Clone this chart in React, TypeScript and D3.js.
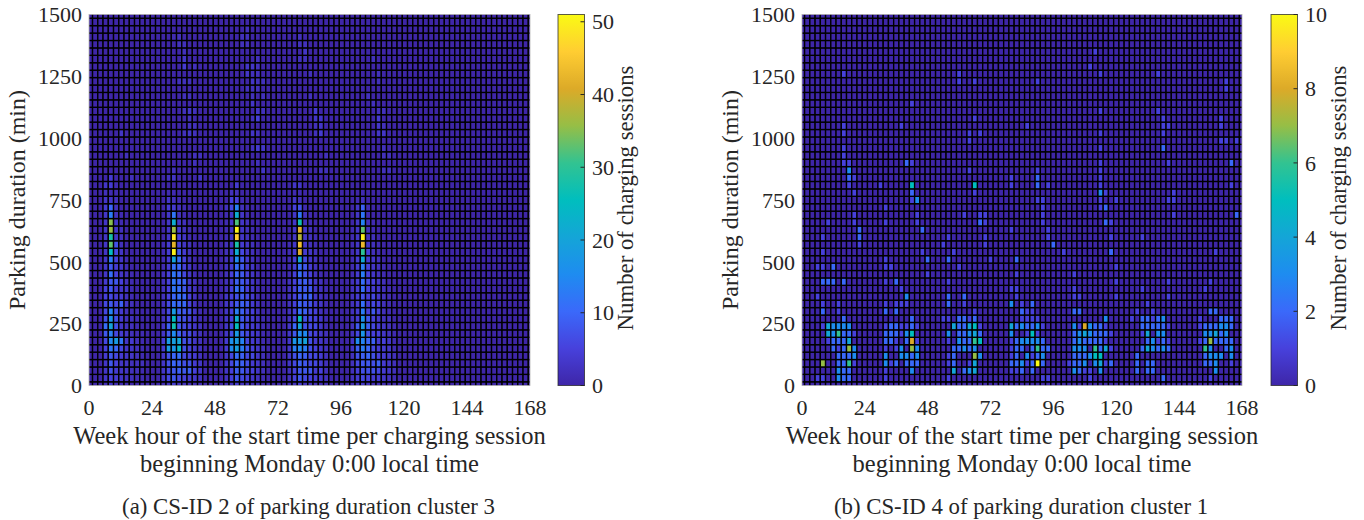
import React from "react";
import * as d3 from "d3";

const xTickValues = [0, 24, 48, 72, 96, 120, 144, 168];
const yTickValues = [0, 250, 500, 750, 1000, 1250, 1500];
const xLabelLines = ["Week hour of the start time per charging session", "beginning Monday 0:00 local time"];
const yLabel = "Parking duration (min)";
const barLabel = "Number of charging sessions";
const captionA = "(a) CS-ID 2 of parking duration cluster 3";
const captionB = "(b) CS-ID 4 of parking duration cluster 1";
const barTicksA = [0, 10, 20, 30, 40, 50];
const barTicksB = [0, 2, 4, 6, 8, 10];
const parulaStops = ["#3E26A8", "#4741DC", "#3A69FA", "#1E8CF0", "#14A5D7", "#00BEBE", "#32C391", "#96BE46", "#DCAA28", "#FFCD32", "#FAFA14"];

// Chart (a): column index (2 h bins), then counts by row (30 min bins) from the bottom
const columnsA: [number, number[]][] = [
  [3, [1,3,3,3,4,5,6,8,11,7,6,6,5,5,4,3,3,3,3,3,3,3,3,3,4,3,2,1]],
  [4, [3,5,7,8,8,12,15,13,20,17,14,8,6,8,8,11,8,13,25,33,28,36,35,13,10,3,1]],
  [5, [1,4,4,5,6,10,18,6,7,7,7,6,4,4,8,5,4,5,6,7,3,3,3,2,2,2,1,1]],
  [6, [1,3,3,3,4,6,12,4,3,4,4,9,4,3,5,3,3,3,3,2,2,2,1,1]],
  [7, [1,2,3,3,3,3,3,3,2,2,2,3,2,3,2,2,1,1]],
  [8, [0,2,2,2,3,3,4,2,2,2,1,2,1,1,1,1]],
  [9, [0,1,2,2,2,2,2,1,1,1,1]],
  [10, [0,1,1,2,1,1,1,1]],
  [14, [1,3,3,3,3,4,4,3,3,2,2,2,2,2,2,2,1,1,1,1]],
  [15, [2,6,6,7,7,18,18,8,9,6,6,6,5,5,5,5,4,4,4,4,3,3,3,3,4,3,1]],
  [16, [4,8,8,10,10,17,19,15,27,25,18,11,10,12,12,12,11,20,50,42,49,36,22,12,4,2,1]],
  [17, [2,6,9,9,11,24,20,9,8,8,9,10,11,11,10,10,10,11,8,5,5,4,3,2,2,1]],
  [18, [2,5,8,7,6,7,7,6,6,7,8,10,10,8,9,6,5,5,4,3,3,2,2,1,1]],
  [19, [1,4,9,7,5,5,6,6,5,5,7,5,5,4,3,3,3,2,2,2,1,1]],
  [20, [1,3,5,4,4,3,3,3,3,3,3,2,2,2,2,1]],
  [21, [1,2,3,3,2,2,2,2,2,1,1]],
  [26, [1,2,3,3,3,4,4,3,3,3,3,3,3,2,2,2,2,2,2,2,1,1,1,1,2]],
  [27, [2,5,5,6,6,15,16,7,7,5,5,5,5,5,4,5,4,4,4,3,3,3,3,3,6,5,2]],
  [28, [4,8,9,10,11,19,18,18,26,22,13,8,7,11,9,10,11,15,22,28,46,50,32,22,14,5,2]],
  [29, [2,6,8,9,9,13,14,8,8,8,9,9,8,9,8,8,8,8,6,4,3,3,3,3,2,1]],
  [30, [2,5,6,7,6,8,6,6,5,6,6,8,6,5,6,5,4,4,3,3,2,2,2,1,1]],
  [31, [1,3,5,4,6,5,4,4,4,4,5,4,4,3,3,3,3,2,2,2,1,1]],
  [32, [1,2,3,3,3,3,3,3,3,2,2,2,1,1,1,1]],
  [33, [0,1,2,2,2,2,1,1,1,1]],
  [38, [1,2,2,3,3,3,3,3,3,2,2,2,2,2,2,1,1,1,1,1]],
  [39, [2,5,5,6,7,13,17,8,10,6,5,5,5,5,5,5,4,4,4,3,3,3,3,3,5,3,1]],
  [40, [4,8,8,9,10,15,18,15,20,26,11,9,8,9,8,11,11,21,41,44,38,42,27,12,7,2,1]],
  [41, [2,6,8,8,9,13,20,15,7,7,9,8,9,8,9,7,8,6,4,3,3,3,2,2,1]],
  [42, [2,5,8,6,6,7,7,6,6,6,6,7,9,8,6,5,4,3,3,2,2,2,1,1]],
  [43, [1,4,4,6,6,5,4,5,6,5,5,4,3,3,3,2,2,2,2,1,1]],
  [44, [1,3,5,4,4,3,3,3,3,3,2,3,2,2,2,1,1]],
  [45, [1,2,2,2,2,2,2,2,1,1,1,1,1,1]],
  [50, [1,2,2,2,2,3,3,2,2,2,2,2,2,2,2,1,1,1,1,1,1,1]],
  [51, [2,4,5,6,7,9,15,6,8,4,4,4,4,4,4,4,4,4,3,3,3,3,3,3,3,1]],
  [52, [3,6,7,8,9,13,14,17,18,16,13,11,7,11,11,13,13,21,30,43,50,33,14,12,9,2,1]],
  [53, [2,5,7,8,10,10,10,7,9,8,5,4,4,5,6,5,5,4,5,3,2,2,2,1,1]],
  [54, [1,4,7,7,7,6,9,5,6,5,8,6,6,4,5,3,3,3,2,2,2,1,1]],
  [55, [1,4,6,9,5,4,4,5,4,3,5,5,3,3,3,2,2,2,1,1]],
  [56, [1,3,4,4,4,4,5,3,3,2,2,2,2,2,2,1,1]],
  [57, [0,2,3,3,3,3,3,2,2,2,1,1,1,1]],
  [58, [0,1,2,2,2,1,1,1,1]],
];

// Chart (a): faint cells of the long parking streaks, as column, row, count
const streaksA: [number, number, number][] = [
  [18,44,3],[18,43,4],[18,46,2],[17,46,2],[17,47,2],[16,47,1],[18,45,2],[20,43,2],[17,41,2],[18,41,2],[19,41,2],
  [18,39,2],[19,39,2],[18,37,2],[19,37,3],[20,37,2],[19,36,2],[19,35,2],[20,35,2],[19,34,3],[20,34,2],[18,34,2],
  [21,31,2],[20,31,2],[20,30,2],[16,29,2],[16,28,3],[21,28,3],[15,28,2],[4,28,4],[4,27,4],[3,27,3],[8,28,2],[6,34,3],[7,31,2],
  [30,48,2],[29,47,2],[30,47,2],[29,46,2],[30,46,2],[32,44,2],[30,43,3],[31,43,3],[32,43,2],[30,42,3],[31,42,2],[32,42,2],
  [31,41,3],[32,41,2],[33,41,2],[30,40,2],[31,40,2],[32,40,2],[31,38,3],[31,39,2],[33,39,2],[32,37,3],[31,36,2],[32,36,5],
  [33,37,2],[31,34,3],[32,34,2],[32,32,4],[33,32,3],[31,32,2],[32,30,2],[33,29,3],[28,27,4],[40,27,3],[39,27,3],
  [41,46,2],[41,45,3],[41,44,2],[40,44,2],[42,39,2],[42,42,2],[40,47,2],[40,46,2],
  [43,37,4],[43,36,3],[44,36,3],[44,34,4],[43,34,2],[44,35,3],[43,35,2],[45,31,2],[44,29,2],[45,29,2],
  [55,36,4],[55,35,3],[56,35,2],[55,34,3],[56,34,3],[54,38,2],[55,37,2],[56,37,2],[53,39,2],[54,44,2],[55,42,2],[55,41,2],[56,32,2],[56,31,2],[57,31,2],[56,29,2],[57,29,2],
];

// Chart (b): counts by row from the bottom, each row a flat list of column, count, column, count...
const rowsB: number[][] = [
  [],
  [3,1,4,1,7,3,8,2,9,2,16,1,28,1,46,1,47,1,55,1,69,2,78,1],
  [7,3,8,2,9,2,16,1,21,3,29,4,31,2,32,3,33,4,40,1,41,1,42,2,44,2,52,3,53,2,54,1,55,1,57,3,64,2,66,2,67,2,79,3],
  [4,7,7,2,8,2,9,6,10,1,16,3,17,1,18,2,20,2,21,2,22,2,28,1,29,2,32,1,33,4,40,2,41,2,42,3,43,1,44,2,45,10,46,2,51,1,52,2,53,2,54,3,56,3,57,4,58,1,59,2,64,2,66,2,67,2,77,2,78,2,79,3,82,1],
  [7,2,8,2,9,2,10,3,16,3,19,3,20,3,21,2,22,3,28,1,29,2,33,7,34,3,40,1,41,2,43,3,44,1,45,2,46,3,52,2,53,2,54,2,55,3,56,5,57,5,64,2,77,2,78,3,79,3,80,3,82,3],
  [6,2,7,1,8,2,9,7,10,3,16,1,18,1,19,3,21,7,22,3,29,2,30,2,31,3,32,2,33,3,40,1,41,2,42,2,44,2,45,6,46,2,47,2,52,3,53,3,54,3,56,6,57,2,58,4,59,1,65,2,66,4,67,3,68,2,69,3,70,2,77,6,78,3,81,2,82,3],
  [5,1,6,2,7,2,8,2,9,4,16,2,17,2,18,1,20,2,21,8,22,1,28,1,30,3,31,2,32,2,33,6,34,5,40,1,41,2,42,3,43,3,44,3,45,3,46,2,52,2,53,3,54,2,55,2,56,2,57,2,58,1,66,2,67,3,68,1,69,2,70,1,76,1,77,2,78,7,79,2,80,2,81,2,82,2],
  [5,4,6,3,7,6,8,2,9,2,10,1,16,2,17,2,18,2,19,1,20,3,21,5,28,3,30,2,31,2,32,3,33,4,34,2,40,3,43,1,44,5,45,1,52,2,53,3,54,4,55,3,56,2,57,2,58,2,59,1,65,1,66,4,68,3,69,3,77,3,78,3,79,4,80,2,81,3],
  [4,1,5,4,6,3,7,3,8,3,9,3,16,1,17,2,18,2,19,1,20,1,21,2,22,1,29,4,30,2,31,2,32,4,33,5,34,1,40,4,41,2,42,3,43,2,44,2,45,3,46,1,52,3,53,1,54,8,55,3,56,2,57,2,58,1,65,2,66,2,67,2,68,2,69,2,70,1,76,1,77,2,78,2,79,2,80,3,81,3,82,2],
  [8,2,21,2,27,1,28,1,30,2,31,2,32,1,33,2,42,1,43,1,44,1,45,1,58,3,63,1,65,2,66,2,67,1,68,2,69,3,76,1,80,2,81,2,82,2],
  [4,2,7,1,16,2,18,2,33,1,42,2,43,1,44,1,52,2,53,2,64,1,67,1,78,2,79,2],
  [4,1,7,1,16,1,18,1,19,1,20,1,28,2,31,1,40,3,42,1,44,2,66,1],
  [3,1,20,3,28,2,31,2,41,1,52,1,53,1,60,1,70,1],
  [19,1,40,1,41,1,52,1,65,1,77,1],
  [4,2,5,2,6,2,8,2,16,1,18,2,28,1,60,1,70,1,78,1],
  [24,1,41,1,52,1],
  [3,1,4,1,6,2,16,1,17,1,30,1,60,1],
  [16,1,24,2,28,2,36,1,41,2],
  [4,1,23,1,29,1,50,1,59,2,79,1],
  [11,1,27,1,35,1,48,2],
  [4,1,11,2,28,1,35,1,47,1,59,1,65,1],
  [11,2,23,2,40,1,47,1],
  [5,1,10,1,16,1,22,1,34,2,35,1,46,1,58,2,59,1],
  [10,1,22,1,31,1,34,1,35,1,46,1,71,1,83,2],
  [16,1,46,1,57,1,58,2],
  [21,1,22,3,45,1,46,1,57,1,60,1,70,1,71,1],
  [10,1,21,2,33,1,57,3,58,1,71,1],
  [9,1,15,1,21,5,33,5,40,1,45,2,47,1,57,1,82,1],
  [9,2,10,1,40,1,45,2,57,1],
  [9,3,32,1,45,1,57,1],
  [8,1,9,1,20,2,21,1,57,1,70,1,82,2],
  [8,1],
  [8,1,57,1,69,2],
  [32,1,80,1,81,1,83,1],
  [8,1,32,1,34,1,57,1,69,1],
  [8,1,19,1,43,1,69,1,70,1,80,1],
  [33,1,69,1,80,1],
  [57,1,68,1],
  [21,1],
  [],
  [81,1],
  [30,1,33,1,45,1,81,1],
  [8,1,30,1,57,1,68,1],
  [55,1],
  [],
  [56,1],
  [],[],[],[],[],
];

const colorAt = d3.piecewise(d3.interpolateRgb, parulaStops);

type Cell = { col: number; row: number; value: number };

function cellsFromColumns(columns: [number, number[]][], streaks: [number, number, number][]): Cell[] {
  const cells: Cell[] = [];
  columns.forEach(([col, values]) => values.forEach((value, row) => cells.push({ col, row, value })));
  streaks.forEach(([col, row, value]) => cells.push({ col, row, value }));
  return cells;
}

function cellsFromRows(rows: number[][]): Cell[] {
  const cells: Cell[] = [];
  rows.forEach((list, row) => {
    for (let i = 0; i < list.length; i += 2) cells.push({ col: list[i], row, value: list[i + 1] });
  });
  return cells;
}

const BINS_X = d3.range(85);
const BINS_Y = d3.range(51);
const INK = "#262626";
const FONT = "'Liberation Serif', serif";
const TICK_SIZE = 22;
const XLABEL_SIZE = 24.5;
const YLABEL_SIZE = 24;
const BARLABEL_SIZE = 22.8;
const CAPTION_SIZE = 22.8;

type PanelProps = {
  id: string;
  left: number;
  right: number;
  barLeft: number;
  hourShift: number;
  cells: Cell[];
  maxValue: number;
  barTicks: number[];
  caption: string;
  captionX: number;
};

function Panel({ id, left, right, barLeft, hourShift, cells, maxValue, barTicks, caption, captionX }: PanelProps) {
  const top = 14.5;
  const bottom = 385.5;
  const x = d3.scaleLinear().domain([0, 168]).range([left, right]);
  const y = d3.scaleLinear().domain([0, 1500]).range([bottom, top]);
  const c = d3.scaleLinear().domain([0, maxValue]).range([bottom, top]);
  const lookup = new Map(cells.map((d) => [d.col + "," + d.row, d.value]));
  const cellW = x(2) - x(0);
  const cellH = y(0) - y(30);
  const barW = 26.5;
  const centre = (left + right) / 2;
  return (
    <g fontFamily={FONT} fill={INK}>
      <defs>
        <clipPath id={id + "-clip"}>
          <rect x={left} y={top} width={right - left} height={bottom - top} />
        </clipPath>
        <linearGradient id={id + "-grad"} x1="0" x2="0" y1="1" y2="0">
          {parulaStops.map((s, i) => (
            <stop key={i} offset={i / (parulaStops.length - 1)} stopColor={s} />
          ))}
        </linearGradient>
      </defs>
      <g clipPath={`url(#${id}-clip)`}>
        <rect x={left} y={top} width={right - left} height={bottom - top} fill="#000" />
        {BINS_X.flatMap((col) =>
          BINS_Y.map((row) => {
            const v = lookup.get(col + "," + row) ?? 0;
            return (
              <rect
                key={col + "-" + row}
                x={x(col * 2 + hourShift) - cellW / 2}
                y={y(row * 30) - cellH / 2}
                width={cellW}
                height={cellH}
                fill={colorAt(Math.min(1, v / maxValue))}
                stroke="#000"
                strokeWidth={1.35}
              />
            );
          })
        )}
      </g>
      <rect x={left} y={top} width={right - left} height={bottom - top} fill="none" stroke="#b4b4b4" strokeWidth={0.8} />
      {yTickValues.map((t) => (
        <text key={t} x={left - 7} y={y(t)} dy="0.35em" textAnchor="end" fontSize={TICK_SIZE}>{t}</text>
      ))}
      {xTickValues.map((t) => (
        <text key={t} x={x(t)} y={414.5} textAnchor="middle" fontSize={TICK_SIZE}>{t}</text>
      ))}
      <text x={centre} y={444} textAnchor="middle" fontSize={XLABEL_SIZE}>{xLabelLines[0]}</text>
      <text x={centre} y={472} textAnchor="middle" fontSize={XLABEL_SIZE}>{xLabelLines[1]}</text>
      <text transform={`translate(${left - 64},200) rotate(-90)`} textAnchor="middle" fontSize={YLABEL_SIZE}>{yLabel}</text>
      <text x={captionX} y={514} textAnchor="middle" fontSize={CAPTION_SIZE}>{caption}</text>
      <rect x={barLeft} y={top} width={barW} height={bottom - top} fill={`url(#${id}-grad)`} stroke={INK} strokeWidth={1} strokeOpacity={0.75} />
      {barTicks.map((t) => (
        <g key={t}>
          <line x1={barLeft + barW - 4} x2={barLeft + barW} y1={c(t)} y2={c(t)} stroke={INK} strokeWidth={1} />
          <text x={barLeft + barW + 7.5} y={c(t)} dy="0.35em" fontSize={TICK_SIZE}>{t}</text>
        </g>
      ))}
      <text transform={`translate(${barLeft + 75},198) rotate(-90)`} textAnchor="middle" fontSize={BARLABEL_SIZE}>{barLabel}</text>
    </g>
  );
}

export default function App() {
  return (
    <svg width={1364} height={520} style={{ position: "absolute", left: 0, top: 0, display: "block", background: "#fff" }}>
      <Panel id="a" left={89} right={530} barLeft={558} hourShift={0.35} cells={cellsFromColumns(columnsA, streaksA)} maxValue={51} barTicks={barTicksA} caption={captionA} captionX={308.5} />
      <Panel id="b" left={802} right={1242} barLeft={1271} hourShift={0} cells={cellsFromRows(rowsB)} maxValue={10} barTicks={barTicksB} caption={captionB} captionX={1021} />
    </svg>
  );
}
